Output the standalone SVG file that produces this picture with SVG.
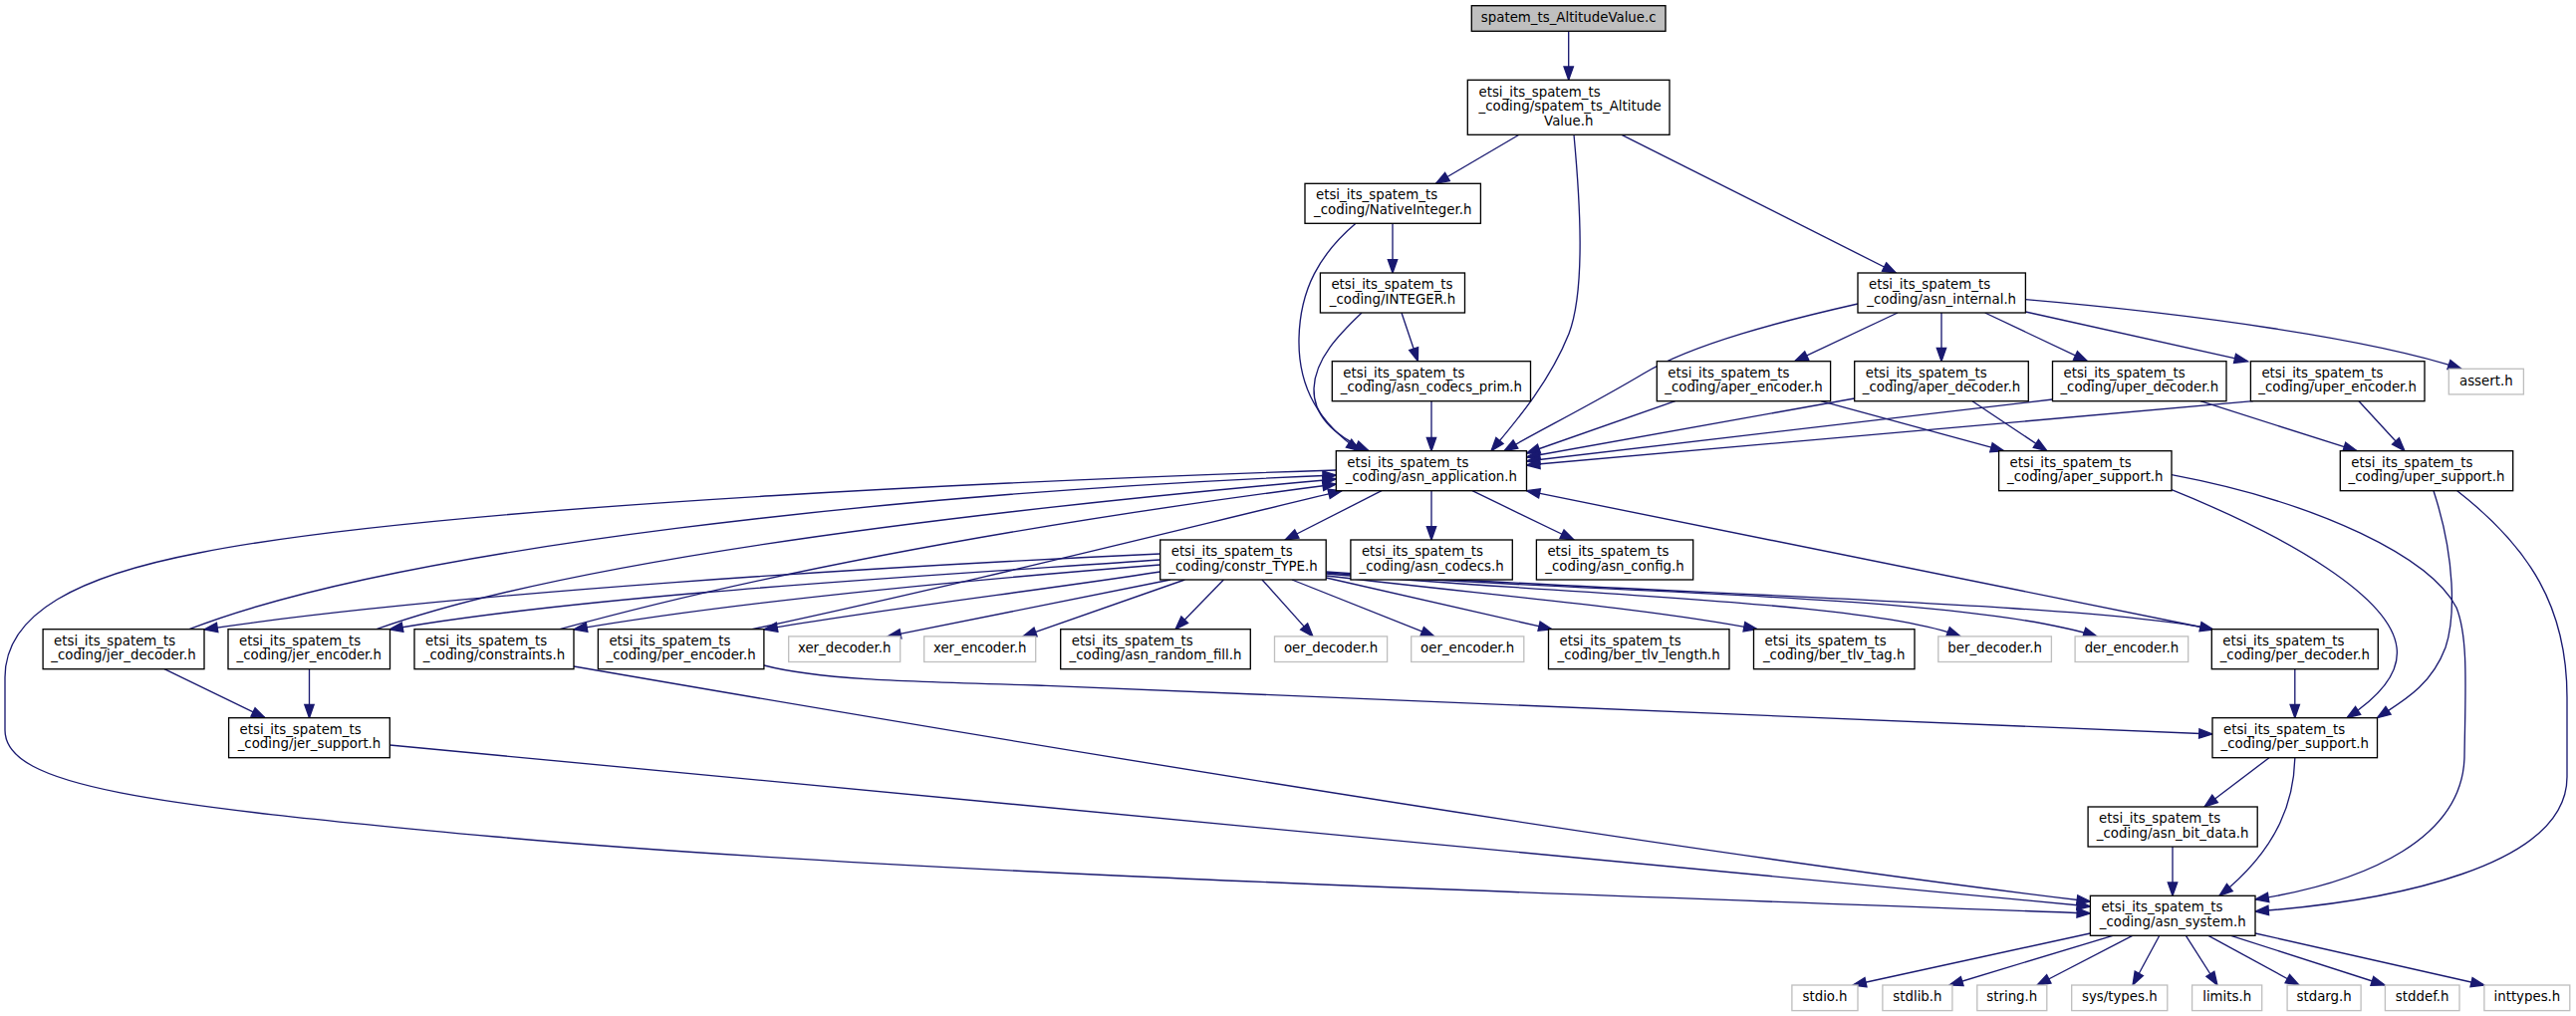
<svg xmlns="http://www.w3.org/2000/svg" width="2586" height="1020" viewBox="0 0 2586 1020">
<defs>
<style>
.n{fill:#fff;stroke:#000;stroke-width:1.33}
.g{fill:#fff;stroke:#bfbfbf;stroke-width:1.33}
.r{fill:#bfbfbf;stroke:#000;stroke-width:1.33}
.t{font-family:"DejaVu Sans",Verdana,sans-serif;font-size:13.33px;fill:#000}
.c{text-anchor:middle}
.e{fill:none;stroke:#191970;stroke-width:1.33;marker-end:url(#a)}
</style>
<marker id="a" markerUnits="userSpaceOnUse" markerWidth="16" markerHeight="12" refX="13.3" refY="4.7" orient="auto" viewBox="0 0 16 12" overflow="visible">
<path d="M0,0 L13.3,4.7 L0,9.4 z" fill="#191970" stroke="#191970" stroke-width="1.33"/>
</marker>
</defs>
<rect width="2586" height="1020" fill="#fff"/>
<g id="edges">
<path class="e" d="M1574.7,31.3 L1574.7,80.3"/>
<path class="e" d="M1525,135.3 L1441.5,184.3"/>
<path class="e" d="M1580,135.3 C1586,200 1592,290 1575,335 C1555,385 1520,425 1497,452.7"/>
<path class="e" d="M1628,135.3 L1903.4,274"/>
<path class="e" d="M1398,224.3 L1398,274"/>
<path class="e" d="M1361,224.3 C1325,255 1305,290 1304,340 C1303,390 1325,425 1365,452.7"/>
<path class="e" d="M1407,314 L1423.4,362.7"/>
<path class="e" d="M1367,314 C1345,335 1320,360 1319,390 C1318,420 1345,440 1374,452.7"/>
<path class="e" d="M1865,305 C1790,322 1700,345 1650,375 C1600,405 1540,435 1510,452.7"/>
<path class="e" d="M1905,314 L1801.7,362.7"/>
<path class="e" d="M1949,314 L1949,362.7"/>
<path class="e" d="M1992.7,314 L2095.5,362.7"/>
<path class="e" d="M2033.4,313 L2256.5,362.7"/>
<path class="e" d="M2033.4,300.7 C2200,315 2380,340 2471,370.3"/>
<path class="e" d="M1437,402.7 L1437,452.7"/>
<path class="e" d="M1681.7,402.7 L1532.5,455"/>
<path class="e" d="M1828,402.7 L2011.8,452.7"/>
<path class="e" d="M1861.7,400 L1532.5,459"/>
<path class="e" d="M1980,402.7 L2054.9,452.7"/>
<path class="e" d="M2060.5,401 L1532.5,463"/>
<path class="e" d="M2209,402.7 L2366,452.7"/>
<path class="e" d="M2262,402.7 L1532.5,467"/>
<path class="e" d="M2368,402.7 L2414,452.7"/>
<path class="e" d="M2180,491.7 C2300,540 2400,600 2406,650 C2410,680 2380,705 2356,720.7"/>
<path class="e" d="M2180,476.7 C2330,505 2440,560 2466,610 C2478,640 2475,690 2474,760 C2472,840 2380,885 2264,903"/>
<path class="e" d="M2443,492.7 C2465,560 2465,620 2455,650 C2440,690 2410,705 2386.5,720.7"/>
<path class="e" d="M2466.7,492.7 C2540,550 2577,610 2577,700 L2577,780 C2577,870 2400,905 2264,915"/>
<path class="e" d="M1387,492.7 L1290,542"/>
<path class="e" d="M1437,492.7 L1437,542"/>
<path class="e" d="M1478,492.7 L1580,542"/>
<path class="e" d="M1341.3,472 C1100,480 450,505 200,555 C80,578 5,615 5,680 L5,733 C5,790 150,808 497,840 C900,877 1600,898 2098.4,917"/>
<path class="e" d="M1164.7,556 C900,568 450,595 205,632"/>
<path class="e" d="M1164.7,562 C1000,574 600,595 391,632"/>
<path class="e" d="M1164.7,567 C1000,580 750,602 576,632"/>
<path class="e" d="M1164.7,574 C1050,592 880,612 767,632"/>
<path class="e" d="M1175,582 L891,638.9"/>
<path class="e" d="M1189.4,582 L1027,638.9"/>
<path class="e" d="M1228.4,582 L1180,631.7"/>
<path class="e" d="M1267,582 L1318,638.9"/>
<path class="e" d="M1297,582 L1440,638.9"/>
<path class="e" d="M1331.2,580 L1558,631.7"/>
<path class="e" d="M1331.2,578 C1500,598 1650,610 1764,631.7"/>
<path class="e" d="M1331.2,576 C1600,598 1880,605 1968,638.9"/>
<path class="e" d="M1331.2,575 C1600,596 1970,596 2105,638.9"/>
<path class="e" d="M1331.2,574 C1650,596 2100,605 2222,632"/>
<path class="e" d="M190,631.7 C400,550 900,495 1341.3,477"/>
<path class="e" d="M378,631.7 C550,570 900,520 1341.3,481"/>
<path class="e" d="M562,631.7 C750,580 1000,530 1341.3,486"/>
<path class="e" d="M755,631.7 C950,590 1150,540 1347,492.7"/>
<path class="e" d="M2222,632 L1532.5,492.7"/>
<path class="e" d="M165,671.7 L266,720.7"/>
<path class="e" d="M310.5,671.7 L310.5,720.7"/>
<path class="e" d="M576,669 C900,725 1600,845 2098.4,905"/>
<path class="e" d="M767,668 C820,682 900,684 1050,688.3 L2221,737"/>
<path class="e" d="M391.3,748 L2098.4,910"/>
<path class="e" d="M2303.8,671.7 L2303.8,720.7"/>
<path class="e" d="M2278,760.7 L2213,810"/>
<path class="e" d="M2303.8,760.7 C2303,800 2290,850 2228,899.3"/>
<path class="e" d="M2181,850 L2181,899.3"/>
<path class="e" d="M2098.4,937 L1860,989"/>
<path class="e" d="M2121,939.3 L1957,989"/>
<path class="e" d="M2140.7,939.3 L2045,989"/>
<path class="e" d="M2167.8,939.3 L2141,989"/>
<path class="e" d="M2194.4,939.3 L2226,989"/>
<path class="e" d="M2217,939.3 L2308,989"/>
<path class="e" d="M2239.6,939.3 L2394,989"/>
<path class="e" d="M2264,937 L2494,989"/>
</g>
<g id="n0"><rect class="r" x="1477.3" y="5.7" width="194.7" height="25.6"/><text class="t c" x="1574.7" y="22">spatem_ts_AltitudeValue.c</text></g>
<g id="n1"><rect class="n" x="1473.3" y="80.3" width="202.7" height="55"/><text class="t" x="1484.5" y="96.5">etsi_its_spatem_ts</text><text class="t" x="1484.5" y="111">_coding/spatem_ts_Altitude</text><text class="t c" x="1574.7" y="125.8">Value.h</text></g>
<g id="n2"><rect class="n" x="1310" y="184.3" width="176.4" height="40"/><text class="t" x="1321" y="200.3">etsi_its_spatem_ts</text><text class="t c" x="1398.2" y="215">_coding/NativeInteger.h</text></g>
<g id="n3"><rect class="n" x="1325.4" y="274" width="145.1" height="40"/><text class="t" x="1336.4" y="290">etsi_its_spatem_ts</text><text class="t c" x="1398" y="304.7">_coding/INTEGER.h</text></g>
<g id="n4"><rect class="n" x="1865" y="274" width="168.4" height="40"/><text class="t" x="1876" y="290">etsi_its_spatem_ts</text><text class="t c" x="1949.2" y="304.7">_coding/asn_internal.h</text></g>
<g id="n5"><rect class="n" x="1337.3" y="362.7" width="199.2" height="40"/><text class="t" x="1348.3" y="378.7">etsi_its_spatem_ts</text><text class="t c" x="1436.9" y="393.4">_coding/asn_codecs_prim.h</text></g>
<g id="n6"><rect class="n" x="1663.3" y="362.7" width="174.3" height="40"/><text class="t" x="1674.3" y="378.7">etsi_its_spatem_ts</text><text class="t c" x="1750.5" y="393.4">_coding/aper_encoder.h</text></g>
<g id="n7"><rect class="n" x="1861.7" y="362.7" width="174.6" height="40"/><text class="t" x="1872.7" y="378.7">etsi_its_spatem_ts</text><text class="t c" x="1949" y="393.4">_coding/aper_decoder.h</text></g>
<g id="n8"><rect class="n" x="2060.5" y="362.7" width="174.5" height="40"/><text class="t" x="2071.5" y="378.7">etsi_its_spatem_ts</text><text class="t c" x="2147.8" y="393.4">_coding/uper_decoder.h</text></g>
<g id="n9"><rect class="n" x="2259.4" y="362.7" width="174.6" height="40"/><text class="t" x="2270.4" y="378.7">etsi_its_spatem_ts</text><text class="t c" x="2346.7" y="393.4">_coding/uper_encoder.h</text></g>
<g id="n10"><rect class="g" x="2458.3" y="370.3" width="75.1" height="25.6"/><text class="t c" x="2495.8" y="386.7">assert.h</text></g>
<g id="n11"><rect class="n" x="1341.3" y="452.7" width="191.2" height="40"/><text class="t" x="1352.3" y="468.7">etsi_its_spatem_ts</text><text class="t c" x="1436.9" y="483.4">_coding/asn_application.h</text></g>
<g id="n12"><rect class="n" x="2006.6" y="452.7" width="173.4" height="40"/><text class="t" x="2017.6" y="468.7">etsi_its_spatem_ts</text><text class="t c" x="2093.3" y="483.4">_coding/aper_support.h</text></g>
<g id="n13"><rect class="n" x="2349.3" y="452.7" width="173.4" height="40"/><text class="t" x="2360.3" y="468.7">etsi_its_spatem_ts</text><text class="t c" x="2436" y="483.4">_coding/uper_support.h</text></g>
<g id="n14"><rect class="n" x="1164.7" y="542" width="166.5" height="40"/><text class="t" x="1175.7" y="558">etsi_its_spatem_ts</text><text class="t c" x="1248" y="572.7">_coding/constr_TYPE.h</text></g>
<g id="n15"><rect class="n" x="1355.9" y="542" width="162.4" height="40"/><text class="t" x="1366.9" y="558">etsi_its_spatem_ts</text><text class="t c" x="1437.1" y="572.7">_coding/asn_codecs.h</text></g>
<g id="n16"><rect class="n" x="1542.4" y="542" width="157.3" height="40"/><text class="t" x="1553.4" y="558">etsi_its_spatem_ts</text><text class="t c" x="1621" y="572.7">_coding/asn_config.h</text></g>
<g id="n17"><rect class="n" x="43.1" y="631.7" width="161.9" height="40"/><text class="t" x="54.1" y="647.7">etsi_its_spatem_ts</text><text class="t c" x="124" y="662.4">_coding/jer_decoder.h</text></g>
<g id="n18"><rect class="n" x="229" y="631.7" width="162.5" height="40"/><text class="t" x="240" y="647.7">etsi_its_spatem_ts</text><text class="t c" x="310.3" y="662.4">_coding/jer_encoder.h</text></g>
<g id="n19"><rect class="n" x="416" y="631.7" width="160" height="40"/><text class="t" x="427" y="647.7">etsi_its_spatem_ts</text><text class="t c" x="496" y="662.4">_coding/constraints.h</text></g>
<g id="n20"><rect class="n" x="600.4" y="631.7" width="166.5" height="40"/><text class="t" x="611.4" y="647.7">etsi_its_spatem_ts</text><text class="t c" x="683.7" y="662.4">_coding/per_encoder.h</text></g>
<g id="n21"><rect class="g" x="791.7" y="638.9" width="112" height="25.6"/><text class="t c" x="847.7" y="655.3">xer_decoder.h</text></g>
<g id="n22"><rect class="g" x="927.7" y="638.9" width="112" height="25.6"/><text class="t c" x="983.7" y="655.3">xer_encoder.h</text></g>
<g id="n23"><rect class="n" x="1064.7" y="631.7" width="190.6" height="40"/><text class="t" x="1075.7" y="647.7">etsi_its_spatem_ts</text><text class="t c" x="1160" y="662.4">_coding/asn_random_fill.h</text></g>
<g id="n24"><rect class="g" x="1279.5" y="638.9" width="113.1" height="25.6"/><text class="t c" x="1336" y="655.3">oer_decoder.h</text></g>
<g id="n25"><rect class="g" x="1416.7" y="638.9" width="113.1" height="25.6"/><text class="t c" x="1473.2" y="655.3">oer_encoder.h</text></g>
<g id="n26"><rect class="n" x="1554.5" y="631.7" width="181.5" height="40"/><text class="t" x="1565.5" y="647.7">etsi_its_spatem_ts</text><text class="t c" x="1645.2" y="662.4">_coding/ber_tlv_length.h</text></g>
<g id="n27"><rect class="n" x="1760.5" y="631.7" width="161.5" height="40"/><text class="t" x="1771.5" y="647.7">etsi_its_spatem_ts</text><text class="t c" x="1841.2" y="662.4">_coding/ber_tlv_tag.h</text></g>
<g id="n28"><rect class="g" x="1945.8" y="638.9" width="113.6" height="25.6"/><text class="t c" x="2002.6" y="655.3">ber_decoder.h</text></g>
<g id="n29"><rect class="g" x="2083.1" y="638.9" width="113.6" height="25.6"/><text class="t c" x="2139.9" y="655.3">der_encoder.h</text></g>
<g id="n30"><rect class="n" x="2220.3" y="631.7" width="167" height="40"/><text class="t" x="2231.3" y="647.7">etsi_its_spatem_ts</text><text class="t c" x="2303.8" y="662.4">_coding/per_decoder.h</text></g>
<g id="n31"><rect class="n" x="229.6" y="720.7" width="161.7" height="40"/><text class="t" x="240.6" y="736.7">etsi_its_spatem_ts</text><text class="t c" x="310.5" y="751.4">_coding/jer_support.h</text></g>
<g id="n32"><rect class="n" x="2221" y="720.7" width="165.5" height="40"/><text class="t" x="2232" y="736.7">etsi_its_spatem_ts</text><text class="t c" x="2303.8" y="751.4">_coding/per_support.h</text></g>
<g id="n33"><rect class="n" x="2096.1" y="810" width="170.1" height="40"/><text class="t" x="2107.1" y="826">etsi_its_spatem_ts</text><text class="t c" x="2181.2" y="840.7">_coding/asn_bit_data.h</text></g>
<g id="n34"><rect class="n" x="2098.4" y="899.3" width="165.6" height="40"/><text class="t" x="2109.4" y="915.3">etsi_its_spatem_ts</text><text class="t c" x="2181.2" y="930">_coding/asn_system.h</text></g>
<g id="n35"><rect class="g" x="1798.9" y="989" width="66.1" height="25.6"/><text class="t c" x="1832" y="1005.4">stdio.h</text></g>
<g id="n36"><rect class="g" x="1889.9" y="989" width="70" height="25.6"/><text class="t c" x="1924.9" y="1005.4">stdlib.h</text></g>
<g id="n37"><rect class="g" x="1984.8" y="989" width="70" height="25.6"/><text class="t c" x="2019.8" y="1005.4">string.h</text></g>
<g id="n38"><rect class="g" x="2079.7" y="989" width="96.1" height="25.6"/><text class="t c" x="2127.8" y="1005.4">sys/types.h</text></g>
<g id="n39"><rect class="g" x="2200.6" y="989" width="70.1" height="25.6"/><text class="t c" x="2235.7" y="1005.4">limits.h</text></g>
<g id="n40"><rect class="g" x="2296.1" y="989" width="74" height="25.6"/><text class="t c" x="2333.1" y="1005.4">stdarg.h</text></g>
<g id="n41"><rect class="g" x="2394.4" y="989" width="74.6" height="25.6"/><text class="t c" x="2431.7" y="1005.4">stddef.h</text></g>
<g id="n42"><rect class="g" x="2493.9" y="989" width="85.9" height="25.6"/><text class="t c" x="2536.9" y="1005.4">inttypes.h</text></g>
</svg>
